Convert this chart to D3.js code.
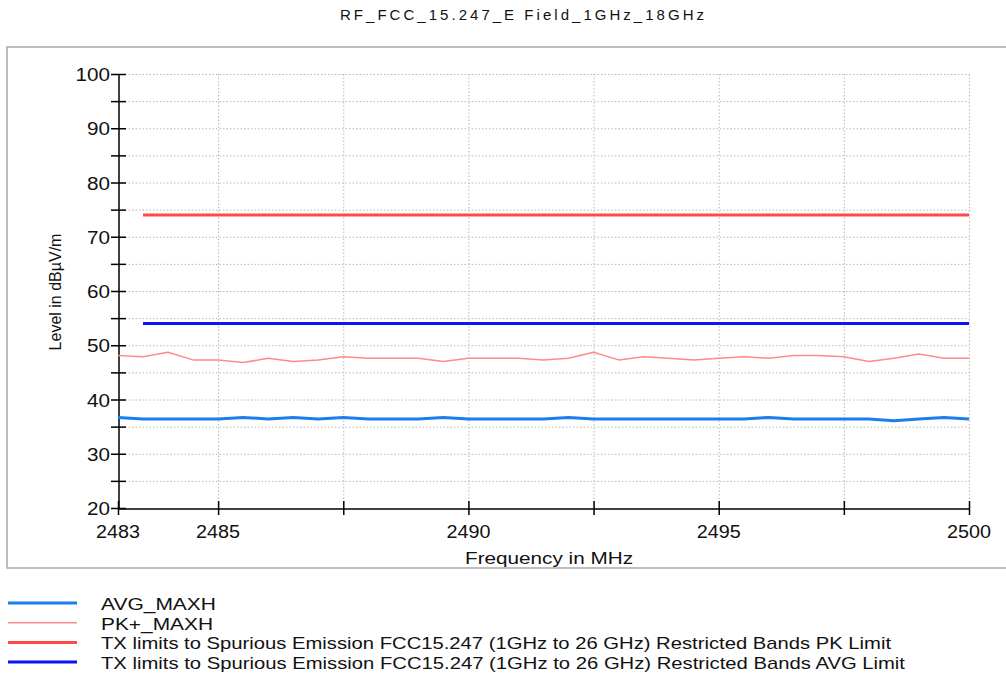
<!DOCTYPE html>
<html><head><meta charset="utf-8">
<script src="https://cdn.jsdelivr.net/npm/d3@7"></script>
<style>
body{margin:0;background:#fff;}
svg{display:block;}
.t{font-family:"Liberation Sans",Arial,sans-serif;fill:#111;}
</style></head>
<body>
<script>
const title = "RF_FCC_15.247_E Field_1GHz_18GHz";
const xLabel = "Frequency in MHz";
const yLabel = "Level in dBµV/m";
const freqs = [2483,2483.5,2484,2484.5,2485,2485.5,2486,2486.5,2487,2487.5,2488,2488.5,2489,2489.5,2490,2490.5,2491,2491.5,2492,2492.5,2493,2493.5,2494,2494.5,2495,2495.5,2496,2496.5,2497,2497.5,2498,2498.5,2499,2499.5,2500];
const pkMaxh = [48.1,47.9,48.7,47.3,47.3,46.8,47.6,47.0,47.3,47.9,47.6,47.6,47.6,47.0,47.6,47.6,47.6,47.3,47.6,48.7,47.3,47.9,47.6,47.3,47.6,47.9,47.6,48.1,48.1,47.9,47.0,47.6,48.4,47.6,47.6];
const avgMaxh = [36.7,36.4,36.4,36.4,36.4,36.7,36.4,36.7,36.4,36.7,36.4,36.4,36.4,36.7,36.4,36.4,36.4,36.4,36.7,36.4,36.4,36.4,36.4,36.4,36.4,36.4,36.7,36.4,36.4,36.4,36.4,36.1,36.4,36.7,36.4];
const limitFreqs = [2483.5, 2500];
const pkLimit = [74, 74];
const avgLimit = [54, 54];
const xTickLabels = [2483, 2485, 2490, 2495, 2500];
const xGrid = [2485, 2487.5, 2490, 2492.5, 2495, 2497.5, 2500];
const yTickLabels = [20,30,40,50,60,70,80,90,100];
const yTicks = [20,25,30,35,40,45,50,55,60,65,70,75,80,85,90,95,100];
const legendNames = ["AVG_MAXH","PK+_MAXH","TX limits to Spurious Emission FCC15.247 (1GHz to 26 GHz) Restricted Bands PK Limit","TX limits to Spurious Emission FCC15.247 (1GHz to 26 GHz) Restricted Bands AVG Limit"];
const colors = ["#1a7ef0","#ff8a8a","#ff4848","#0a14f5"];
const widths = [3,1.5,3,3];

const W=1006,H=675;
const svg=d3.select("body").append("svg").attr("width",W).attr("height",H);
const x=d3.scaleLinear().domain([2483,2500]).range([118,969]);
const y=d3.scaleLinear().domain([20,100]).range([508,74]);

svg.append("text").attr("class","t").attr("x",522).attr("y",20).attr("text-anchor","middle")
  .attr("font-size",15).attr("textLength",364).attr("lengthAdjust","spacing").text(title);

// frame
svg.append("rect").attr("x",7).attr("y",47).attr("width",1010).attr("height",521)
  .attr("fill","none").attr("stroke","#a8a8a8").attr("stroke-width",1.5);

// grid
const g=svg.append("g");
g.selectAll(".hg").data(yTicks.filter(v=>v>20)).join("line")
  .attr("x1",x(2483)).attr("x2",x(2500)).attr("y1",d=>y(d)+0.5).attr("y2",d=>y(d)+0.5)
  .attr("stroke","#b8b8b8").attr("stroke-dasharray","1.5,2").attr("stroke-width",1);
g.selectAll(".vg").data(xGrid).join("line")
  .attr("x1",d=>x(d)+0.5).attr("x2",d=>x(d)+0.5).attr("y1",y(100)).attr("y2",y(20))
  .attr("stroke","#b8b8b8").attr("stroke-dasharray","1.5,2").attr("stroke-width",1);

// axes
const yAxis=d3.axisLeft(y).tickValues(yTicks).tickSize(0).tickFormat("");
const ya=svg.append("g").attr("transform",`translate(${x(2483)+0.5},0)`).call(yAxis);
ya.select(".domain").attr("stroke","#000").attr("stroke-width",1.5);
svg.selectAll(".yt").data(yTicks).join("line")
  .attr("x1",x(2483)-7).attr("x2",x(2483)+8).attr("y1",d=>y(d)+0.5).attr("y2",d=>y(d)+0.5)
  .attr("stroke","#000").attr("stroke-width",1.5);
svg.selectAll(".ytl").data(yTickLabels).join("text").attr("class","t")
  .attr("x",x(2483)-8).attr("y",d=>y(d)+7).attr("text-anchor","end")
  .attr("font-size",18).attr("textLength",d=>String(d).length*11.5).attr("lengthAdjust","spacingAndGlyphs").text(d=>d);

const xAxis=d3.axisBottom(x).tickValues([2483].concat(xGrid)).tickSize(0).tickFormat("");
const xa=svg.append("g").attr("transform",`translate(0,${y(20)+0.5})`).call(xAxis);
xa.select(".domain").attr("stroke","#000").attr("stroke-width",1.5);
svg.selectAll(".xt").data([2483].concat(xGrid)).join("line")
  .attr("x1",d=>x(d)+0.5).attr("x2",d=>x(d)+0.5).attr("y1",y(20)-7).attr("y2",y(20)+7)
  .attr("stroke","#000").attr("stroke-width",1.5);
svg.selectAll(".xtl").data(xTickLabels).join("text").attr("class","t")
  .attr("x",d=>x(d)).attr("y",y(20)+30).attr("text-anchor","middle")
  .attr("font-size",18).attr("textLength",44).attr("lengthAdjust","spacingAndGlyphs").text(d=>d);

svg.append("text").attr("class","t").attr("x",549).attr("y",564).attr("text-anchor","middle")
  .attr("font-size",17).attr("textLength",168).attr("lengthAdjust","spacingAndGlyphs").text(xLabel);
svg.append("text").attr("class","t").attr("transform","translate(61,292) rotate(-90)")
  .attr("text-anchor","middle").attr("font-size",16).text(yLabel);

// series
const line=d3.line().x(d=>x(d[0])).y(d=>y(d[1]));
const series=[
  {f:freqs,v:avgMaxh,i:0},
  {f:freqs,v:pkMaxh,i:1},
  {f:limitFreqs,v:pkLimit,i:2},
  {f:limitFreqs,v:avgLimit,i:3}
];
series.forEach(s=>{
  svg.append("path").datum(s.f.map((f,k)=>[f,s.v[k]])).attr("d",line)
    .attr("fill","none").attr("stroke",colors[s.i]).attr("stroke-width",widths[s.i])
    .attr("stroke-linejoin","round");
});

// legend
const legendLens=[115,112,790,804];
legendNames.forEach((n,i)=>{
  const ly=603+i*19.7;
  svg.append("line").attr("x1",8).attr("x2",77).attr("y1",ly).attr("y2",ly)
    .attr("stroke",colors[i]).attr("stroke-width",widths[i]===1.5?1.5:3);
  svg.append("text").attr("class","t").attr("x",101).attr("y",ly+7)
    .attr("font-size",17).attr("textLength",legendLens[i]).attr("lengthAdjust","spacingAndGlyphs").text(n);
});
</script>
</body></html>
